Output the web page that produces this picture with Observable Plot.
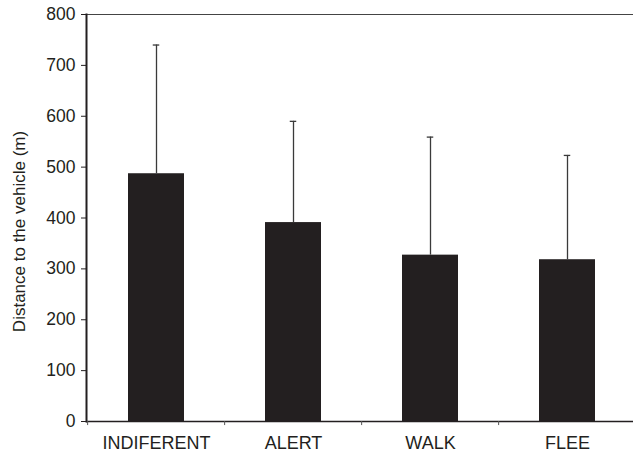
<!DOCTYPE html>
<html>
<head>
<meta charset="utf-8">
<script src="https://cdn.jsdelivr.net/npm/d3@7"></script>
<script src="https://cdn.jsdelivr.net/npm/@observablehq/plot@0.6"></script>
<style>
  html, body { margin: 0; padding: 0; background: #fff; overflow: hidden; }
  #chart svg { display: block; font-family: "Liberation Sans", Arial, Helvetica, sans-serif; }
</style>
</head>
<body>
<div id="chart"></div>
<script>
const categories = ["INDIFERENT", "ALERT", "WALK", "FLEE"];
const means = [487, 391, 327, 318];
const upper = [740, 590, 559, 523];
const yTicks = [0, 100, 200, 300, 400, 500, 600, 700, 800];
const yTitle = "Distance to the vehicle (m)";

const data = categories.map((c, i) => ({cat: c, mean: means[i], upper: upper[i]}));

const W = 633, H = 452;
const xRange = [86, 637];
const step = (xRange[1] - xRange[0]) / categories.length;
const ink = "#231f20";

const chart = Plot.plot({
  width: W,
  height: H,
  marginLeft: 86,
  marginRight: 0,
  marginTop: 14,
  marginBottom: 31,
  style: {fontSize: "17px", color: ink, background: "#fff"},
  x: {domain: categories, range: xRange, paddingInner: 0.59, paddingOuter: 0.295, label: null},
  y: {domain: [0, 800], label: null},
  marks: [
    Plot.barY(data, {x: "cat", y: "mean", fill: ink}),
    Plot.ruleX(data, {x: "cat", y1: "mean", y2: "upper", stroke: "#3a3a3a", strokeWidth: 1.3}),
    Plot.tickY(data, {x: "cat", y: "upper", stroke: "#3a3a3a", strokeWidth: 1.3, insetLeft: 24.75, insetRight: 24.75}),
    Plot.frame({anchor: "top", stroke: "#444", strokeWidth: 1.2}),
    Plot.ruleY([0], {stroke: ink, strokeWidth: 1.6}),
    Plot.frame({anchor: "left", stroke: ink, strokeWidth: 2}),
    Plot.ruleX(categories, {x: d => d, dx: -step / 2, y1: 0, y2: -8, stroke: "#555", strokeWidth: 1}),
    Plot.axisY({ticks: yTicks, tickSize: 5, tickPadding: 6, fontSize: 17.5, stroke: ink, fill: ink, label: null}),
    Plot.axisX({tickSize: 0, tickPadding: 15, fontSize: 18, fill: ink, label: null}),
    Plot.text([yTitle], {frameAnchor: "left", textAnchor: "middle", rotate: -90, dx: -67, dy: 13.5, fontSize: 17, fill: ink})
  ]
});
document.getElementById("chart").appendChild(chart);
</script>
</body>
</html>
